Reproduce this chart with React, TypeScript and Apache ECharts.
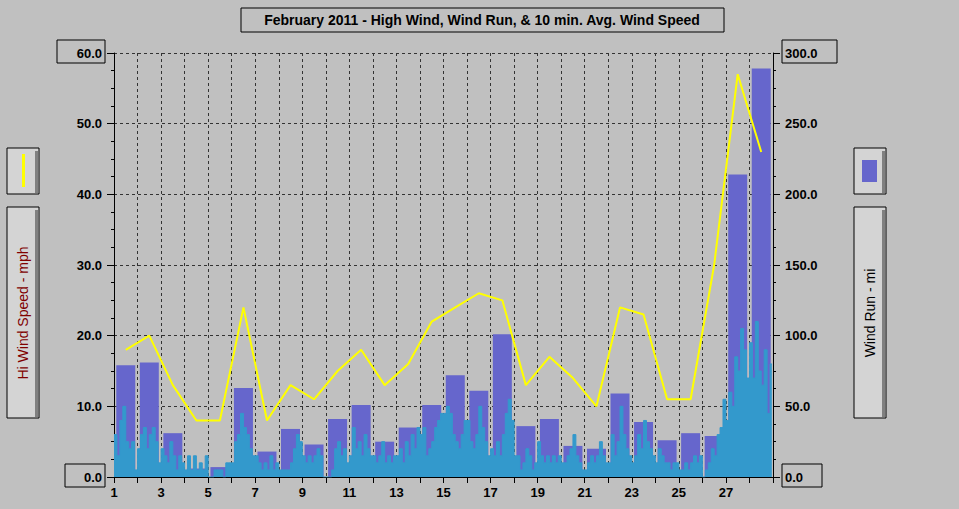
import { useEffect, useRef } from "react";
import * as echarts from "echarts";

const TITLE = "February 2011 - High Wind, Wind Run, & 10 min. Avg. Wind Speed";
const FONT = "'Liberation Sans', Arial, sans-serif";

const DAYS = [1, 2, 3, 4, 5, 6, 7, 8, 9, 10, 11, 12, 13, 14, 15, 16, 17, 18, 19, 20, 21, 22, 23, 24, 25, 26, 27, 28];

// wind run per day, miles (right axis)
const WIND_RUN = [79, 81, 31, 6, 7, 63, 18, 34, 23, 41, 51, 25, 35, 51, 72, 61, 101, 36, 41, 22, 20, 59, 39, 26, 31, 29, 214, 289];

// daily high wind, mph (left axis)
const HI_WIND = [18, 20, 13, 8, 8, 24, 8, 13, 11, 15, 18, 13, 16, 22, 24, 26, 25, 13, 17, 14, 10, 24, 23, 11, 11, 30, 57, 46];

// 10 min. avg wind speed, 3-hourly reading per day, mph (left axis)
const AVG_SPEED = [
  [6, 3, 8, 10, 5, 4, 5, 1],
  [4, 6, 7, 4, 6, 7, 5, 2],
  [4, 3, 2, 5, 3, 1, 3, 2],
  [1, 3, 1, 3, 1, 2, 1, 3],
  [0, 0, 1, 1, 1, 0, 2, 2],
  [2, 5, 6, 9, 7, 6, 4, 3],
  [3, 2, 1, 2, 1, 3, 1, 2],
  [1, 1, 1, 1, 2, 4, 6, 5],
  [3, 2, 3, 2, 3, 4, 3, 0],
  [0, 0, 1, 4, 5, 3, 4, 2],
  [3, 7, 4, 5, 3, 6, 4, 3],
  [3, 2, 3, 5, 2, 3, 2, 3],
  [3, 4, 2, 5, 3, 6, 4, 7],
  [6, 7, 3, 4, 5, 7, 8, 9],
  [9, 10, 9, 6, 5, 4, 6, 8],
  [8, 5, 4, 6, 10, 7, 5, 3],
  [4, 3, 5, 3, 6, 9, 11, 8],
  [3, 3, 1, 2, 4, 3, 1, 2],
  [5, 3, 2, 3, 2, 3, 2, 3],
  [2, 2, 3, 4, 6, 3, 2, 1],
  [1, 2, 3, 2, 3, 5, 3, 2],
  [2, 6, 3, 5, 10, 6, 4, 3],
  [2, 3, 6, 4, 8, 5, 4, 3],
  [2, 4, 3, 2, 2, 1, 2, 2],
  [1, 1, 2, 1, 2, 3, 2, 3],
  [0, 1, 2, 4, 3, 6, 7, 11],
  [8, 12, 10, 17, 15, 21, 18, 14],
  [19, 14, 22, 15, 13, 18, 9, 16],
];

const GRID_DASH = { color: "#333", type: [3, 3] as number[], width: 1 };

function buttonBox(x: number, y: number, w: number, h: number): any[] {
  return [
    { type: "rect", shape: { x, y, width: w, height: h }, style: { fill: "#d4d4d4", stroke: "#000", lineWidth: 1 } },
    { type: "rect", shape: { x: x + w - 4, y: y + 3, width: 3, height: h - 4 }, style: { fill: "#808080" } },
  ];
}

function labelBox(x: number, y: number, w: number, h: number): any {
  return { type: "rect", shape: { x, y, width: w, height: h }, style: { fill: "none", stroke: "#000", lineWidth: 1 } };
}

export default function App(): JSX.Element {
  const ref = useRef<HTMLDivElement | null>(null);

  useEffect(() => {
    document.body.style.margin = "0";
    document.body.style.background = "#c0c0c0";
    const el = ref.current;
    if (!el) return;
    const chart = echarts.init(el, undefined, { renderer: "svg" });

    const avgData: number[][] = [];
    AVG_SPEED.forEach((row, i) => {
      row.forEach((v, k) => avgData.push([DAYS[i] + k / 8, v]));
    });
    avgData.push([28.95, AVG_SPEED[27][7]]);

    const axisText = { color: "#000", fontFamily: FONT, fontSize: 13, fontWeight: "bold" as const };

    chart.setOption({
      animation: false,
      backgroundColor: "#c0c0c0",
      grid: { left: 114, right: 186, top: 53, bottom: 32 },
      xAxis: {
        type: "value",
        min: 1,
        max: 29,
        interval: 1,
        axisLine: { lineStyle: { color: "#000", width: 1 } },
        axisTick: { length: 6, lineStyle: { color: "#000" } },
        axisLabel: {
          ...axisText,
          margin: 9,
          formatter: (v: number) => (v % 2 === 1 && v < 29 ? String(v) : ""),
        },
        splitLine: { show: true, lineStyle: GRID_DASH },
      },
      yAxis: [
        {
          type: "value",
          min: 0,
          max: 60,
          interval: 10,
          axisLine: { show: true, lineStyle: { color: "#000" } },
          axisTick: { show: true, length: 7, lineStyle: { color: "#000" } },
          minorTick: { show: true, splitNumber: 4, length: 3, lineStyle: { color: "#000" } },
          axisLabel: { ...axisText, margin: 12, formatter: (v: number) => v.toFixed(1) },
          splitLine: { show: true, lineStyle: GRID_DASH },
        },
        {
          type: "value",
          min: 0,
          max: 300,
          interval: 50,
          position: "right",
          axisLine: { show: true, lineStyle: { color: "#000" } },
          axisTick: { show: true, length: 7, lineStyle: { color: "#000" } },
          minorTick: { show: true, splitNumber: 4, length: 3, lineStyle: { color: "#000" } },
          axisLabel: { ...axisText, margin: 12, formatter: (v: number) => v.toFixed(1) },
          splitLine: { show: false },
        },
      ],
      series: [
        {
          name: "Wind Run",
          type: "bar",
          yAxisIndex: 1,
          barWidth: 19,
          itemStyle: { color: "#6666cc" },
          data: DAYS.map((d, i) => [d + 0.5, WIND_RUN[i]]),
          z: 2,
        },
        {
          name: "10 min. Avg. Wind Speed",
          type: "line",
          yAxisIndex: 0,
          step: "end",
          showSymbol: false,
          lineStyle: { color: "#3399cc", width: 1 },
          areaStyle: { color: "#3399cc", opacity: 1 },
          data: avgData,
          z: 3,
        },
        {
          name: "Hi Wind Speed",
          type: "line",
          yAxisIndex: 0,
          showSymbol: false,
          lineStyle: { color: "#ffff00", width: 2 },
          data: DAYS.map((d, i) => [d + 0.5, HI_WIND[i]]),
          z: 4,
        },
      ],
      graphic: [
        labelBox(241, 8, 483, 24),
        {
          type: "text",
          x: 482,
          y: 20,
          style: { text: TITLE, fill: "#000", font: `bold 14px ${FONT}`, align: "center", verticalAlign: "middle" },
        },
        labelBox(57, 40, 48, 23),
        labelBox(65, 464, 40, 23),
        labelBox(782, 40, 55, 23),
        labelBox(782, 464, 40, 23),
        ...buttonBox(7, 148, 32, 46),
        { type: "rect", shape: { x: 22, y: 154, width: 3, height: 33 }, style: { fill: "#ffff00" } },
        ...buttonBox(7, 207, 32, 211),
        {
          type: "text",
          x: 23,
          y: 313,
          rotation: Math.PI / 2,
          style: { text: "Hi Wind Speed - mph", fill: "#800000", font: `14px ${FONT}`, align: "center", verticalAlign: "middle" },
        },
        ...buttonBox(854, 148, 32, 46),
        { type: "rect", shape: { x: 862, y: 160, width: 15, height: 22 }, style: { fill: "#6666cc" } },
        ...buttonBox(854, 207, 32, 211),
        {
          type: "text",
          x: 870,
          y: 313,
          rotation: Math.PI / 2,
          style: { text: "Wind Run - mi", fill: "#000", font: `14px ${FONT}`, align: "center", verticalAlign: "middle" },
        },
      ],
    });

    return () => chart.dispose();
  }, []);

  return <div ref={ref} style={{ width: 959, height: 509 }} />;
}
